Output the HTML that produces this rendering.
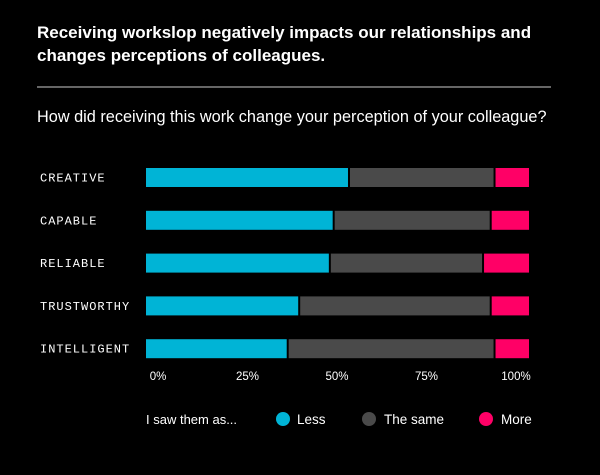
<!DOCTYPE html>
<html><head><meta charset="utf-8"><style>
body{margin:0;background:#000;width:600px;height:470px;overflow:hidden;font-family:"Liberation Sans",sans-serif;}
</style></head><body>
<svg width="600" height="470" xmlns="http://www.w3.org/2000/svg">
<rect width="600" height="470" fill="#000"/>
<text x="37" y="38" fill="#fff" font-size="17" font-weight="bold">Receiving workslop negatively impacts our relationships and</text>
<text x="37" y="61" fill="#fff" font-size="17" font-weight="bold">changes perceptions of colleagues.</text>
<line x1="37" y1="87" x2="551" y2="87" stroke="#ccc" stroke-width="1"/>
<text x="37" y="122" fill="#fff" font-size="16.3">How did receiving this work change your perception of your colleague?</text>
<g id="bars"></g>
<g id="ticks"></g>
<g>
<text x="146" y="424" fill="#fff" font-size="13">I saw them as...</text>
<circle cx="283" cy="419" r="7" fill="#00b4d6"/>
<text x="297" y="424" fill="#fff" font-size="13.5">Less</text>
<circle cx="369" cy="419" r="7" fill="#4a4a4a"/>
<text x="384" y="424" fill="#fff" font-size="13.5">The same</text>
<circle cx="486" cy="419" r="7" fill="#ff0066"/>
<text x="501" y="424" fill="#fff" font-size="13.5">More</text>
</g>
</svg>
<script>
const categories=["CREATIVE","CAPABLE","RELIABLE","TRUSTWORTHY","INTELLIGENT"];
const lessVals=[53,49,48,40,37];
const sameVals=[38,41,40,50,54];
const moreVals=[9,10,12,10,9];
const tickVals=[0,25,50,75,100];
const NS="http://www.w3.org/2000/svg";
const x0=146,x1=529,rowTop=168,rowStep=42.8,barH=19,gap=2;
const xs=v=>x0+(x1-x0)*v/100;
const tickX=v=>158+v*3.58;
const colors=["#00b4d6","#4a4a4a","#ff0066"];
const names=["less","same","more"];
const bars=document.getElementById('bars');
categories.forEach((c,i)=>{
  const y=rowTop+i*rowStep;
  const t=document.createElementNS(NS,'text');
  
  
  t.setAttribute('x',40);t.setAttribute('y',y+barH/2+4);
  t.setAttribute('fill','#fff');t.setAttribute('font-size','12');
  t.setAttribute('font-family','"Liberation Mono",monospace');
  t.setAttribute('letter-spacing','1');
  t.textContent=c;bars.appendChild(t);
  const vals=[lessVals[i],sameVals[i],moreVals[i]];
  let acc=0;
  vals.forEach((v,k)=>{
    const a=xs(acc),b=xs(acc+v);acc+=v;
    const r=document.createElementNS(NS,'rect');
    
    
    const left=k===0?a:a+gap/2, right=k===2?b:b-gap/2;
    r.setAttribute('x',left);r.setAttribute('y',y);
    r.setAttribute('width',Math.max(0,right-left));r.setAttribute('height',barH);
    r.setAttribute('fill',colors[k]);bars.appendChild(r);
  });
});
const ticks=document.getElementById('ticks');
tickVals.forEach(v=>{
  const t=document.createElementNS(NS,'text');
  
  
  t.setAttribute('x',tickX(v));t.setAttribute('y',380);
  t.setAttribute('fill','#fff');t.setAttribute('font-size','11.5');
  t.setAttribute('text-anchor','middle');
  t.textContent=v+'%';ticks.appendChild(t);
});
</script>
</body></html>
